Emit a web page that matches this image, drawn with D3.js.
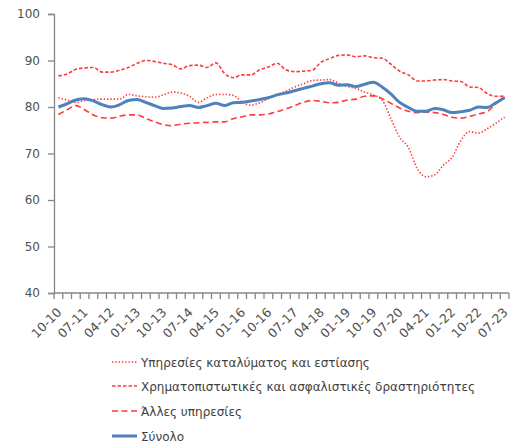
<!DOCTYPE html>
<html><head><meta charset="utf-8">
<script src="https://cdn.jsdelivr.net/npm/d3@7"></script>
<style>body{margin:0;background:#fff}svg{display:block}</style>
</head><body>
<svg id="c" width="514" height="447"></svg>
<script>
const categories = ["10-10","01-11","04-11","07-11","10-11","01-12","04-12","07-12","10-12","01-13","04-13","07-13","10-13","01-14","04-14","07-14","10-14","01-15","04-15","07-15","10-15","01-16","04-16","07-16","10-16","01-17","04-17","07-17","10-17","01-18","04-18","07-18","10-18","01-19","04-19","07-19","10-19","01-20","04-20","07-20","10-20","01-21","04-21","07-21","10-21","01-22","04-22","07-22","10-22","01-23","04-23","07-23"];
const tickLabelsShown = ["10-10","07-11","04-12","01-13","10-13","07-14","04-15","01-16","10-16","07-17","04-18","01-19","10-19","07-20","04-21","01-22","10-22","07-23"];
const yTicks = [40,50,60,70,80,90,100];

const accommodation = [82.0,81.5,81.0,81.4,81.6,81.7,81.7,81.7,82.7,82.4,82.2,82.1,82.6,83.2,83.0,82.3,81.0,82.0,82.7,82.7,82.5,81.0,80.4,80.9,81.8,82.7,83.4,84.3,85.0,85.7,85.8,85.9,85.1,84.4,84.0,83.2,82.6,81.5,77.5,73.5,71.3,66.8,65.0,65.4,67.5,69.2,72.8,74.7,74.4,75.3,76.5,77.8];
const finance = [86.7,87.1,88.1,88.4,88.5,87.5,87.5,87.9,88.5,89.4,90.0,89.8,89.4,89.1,88.2,88.9,89.0,88.5,89.5,87.2,86.3,86.9,86.9,88.0,88.6,89.4,88.0,87.6,87.7,87.9,89.6,90.4,91.1,91.2,90.8,91.0,90.6,90.5,89.2,87.7,86.9,85.6,85.6,85.8,85.9,85.6,85.5,84.3,84.2,82.9,82.3,82.4];
const otherServices = [78.4,79.4,80.3,79.4,78.3,77.7,77.6,78.0,78.3,78.3,77.5,76.8,76.2,76.0,76.3,76.5,76.6,76.7,76.8,76.8,77.5,77.9,78.3,78.3,78.5,79.0,79.6,80.3,81.0,81.4,81.2,80.9,81.0,81.5,81.7,82.3,82.4,81.8,80.8,79.8,79.1,78.8,78.9,78.8,78.4,77.8,77.6,78.0,78.5,79.0,80.7,82.2];
const total = [80.0,80.7,81.5,81.8,81.3,80.5,80.0,80.5,81.4,81.6,81.0,80.3,79.7,79.8,80.1,80.3,79.9,80.3,80.8,80.3,80.9,81.0,81.3,81.6,82.0,82.6,83.0,83.5,84.0,84.5,85.0,85.2,84.7,84.8,84.4,84.9,85.3,84.3,82.8,81.0,79.9,79.1,79.1,79.7,79.4,78.8,79.0,79.3,80.0,79.9,80.9,82.0];

const seriesNames = ["Υπηρεσίες καταλύματος και εστίασης","Χρηματοπιστωτικές και ασφαλιστικές δραστηριότητες","Άλλες υπηρεσίες","Σύνολο"];

const series = [
  {name:seriesNames[0], values:accommodation, color:"#ff3b3b", width:1.6, dash:"1.4,1.9"},
  {name:seriesNames[1], values:finance, color:"#ff3b3b", width:1.6, dash:"3.5,2"},
  {name:seriesNames[2], values:otherServices, color:"#ff3b3b", width:1.6, dash:"6,3.5"},
  {name:seriesNames[3], values:total, color:"#4f81bd", width:3, dash:null}
];

const svg = d3.select("#c");
const pLeft=54, pRight=509, pTop=14, pBottom=293;
const x = d3.scaleBand().domain(categories).range([pLeft,pRight]);
const y = d3.scaleLinear().domain([40,100]).range([pBottom,pTop]);
const axisColor="#868686", textColor="#505050";
const font="DejaVu Sans, sans-serif";

// Y axis
const yAxis = svg.append("g").attr("transform",`translate(${pLeft},0)`)
  .call(d3.axisLeft(y).tickValues(yTicks).tickSize(6).tickPadding(8));
yAxis.select(".domain").attr("stroke",axisColor).attr("stroke-width",1.3);
yAxis.selectAll(".tick line").attr("stroke",axisColor).attr("stroke-width",1.3);
yAxis.selectAll("text").attr("fill",textColor).style("font-family",font).style("font-size","12px");

// X axis (ticks at category boundaries)
const xg = svg.append("g").attr("transform",`translate(0,${pBottom})`);
xg.append("line").attr("x1",pLeft).attr("x2",pRight).attr("stroke",axisColor).attr("stroke-width",1.3);
const bounds = categories.map(c=>x(c)).concat([x(categories[categories.length-1])+x.bandwidth()]);
xg.selectAll("line.t").data(bounds).join("line").attr("class","t")
  .attr("x1",d=>d).attr("x2",d=>d).attr("y1",0).attr("y2",6)
  .attr("stroke",axisColor).attr("stroke-width",1.3);
xg.selectAll("text").data(tickLabelsShown).join("text")
  .attr("transform",d=>`translate(${x(d)+x.bandwidth()/2+4},${20}) rotate(-45)`)
  .attr("text-anchor","end").attr("fill",textColor)
  .style("font-family",font).style("font-size","12.5px").text(d=>d);

// Lines
const line = d3.line().x((d,i)=>x(categories[i])+x.bandwidth()/2).y(d=>y(d)).curve(d3.curveMonotoneX);
series.forEach(s=>{
  svg.append("path").datum(s.values).attr("d",line).attr("fill","none")
    .attr("stroke",s.color).attr("stroke-width",s.width)
    .attr("stroke-dasharray",s.dash).attr("stroke-linejoin","round");
});

// Legend
const legY=[362,386,411,436];
series.forEach((s,i)=>{
  const g=svg.append("g").attr("transform",`translate(112,${legY[i]})`);
  g.append("line").attr("x1",0).attr("x2",25).attr("y1",0).attr("y2",0)
    .attr("stroke",s.color).attr("stroke-width",s.width).attr("stroke-dasharray",s.dash);
  g.append("text").attr("x",29).attr("y",4.5).attr("fill","#404040")
    .style("font-family",font).style("font-size","12px").text(s.name);
});
</script>
</body></html>
